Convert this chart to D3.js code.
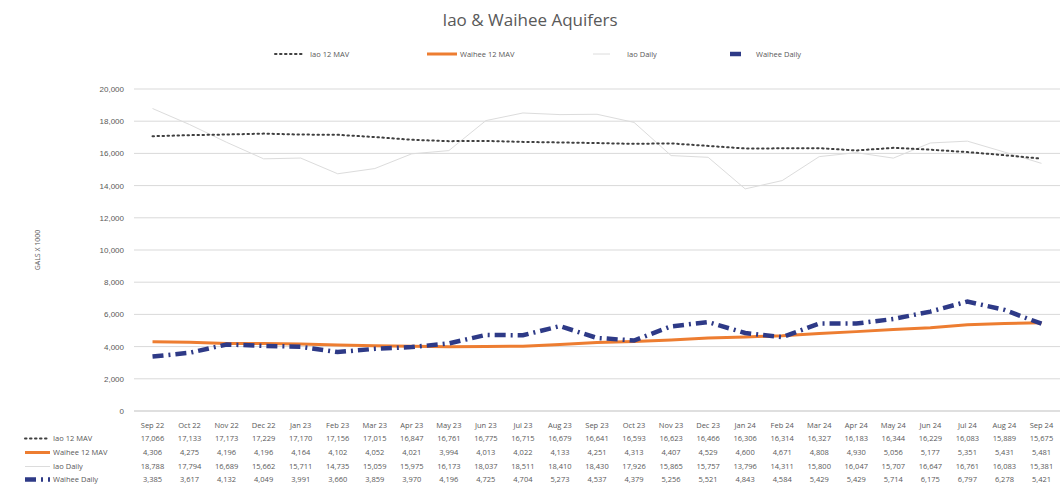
<!DOCTYPE html>
<html lang="en">
<head>
<meta charset="UTF-8">
<title>Iao & Waihee Aquifers</title>
<script src="https://d3js.org/d3.v7.min.js"></script>
<style>
  body { margin: 0; background: #fff; font-family: "Open Sans", "Noto Sans", sans-serif; }
  text { fill: #595959; }
</style>
</head>
<body>
<svg id="chart" width="1060" height="495"></svg>
<script>
// months along the bottom
const months = ["Sep 22","Oct 22","Nov 22","Dec 22","Jan 23","Feb 23","Mar 23","Apr 23","May 23","Jun 23","Jul 23","Aug 23","Sep 23",
                "Oct 23","Nov 23","Dec 23","Jan 24","Feb 24","Mar 24","Apr 24","May 24","Jun 24","Jul 24","Aug 24","Sep 24"];

// series values (gallons x 1000)
const iao12 = [17066,17133,17173,17229,17170,17156,17015,16847,16761,16775,16715,16679,16641,
               16593,16623,16466,16306,16314,16327,16183,16344,16229,16083,15889,15675];
const waihee12 = [4306,4275,4196,4196,4164,4102,4052,4021,3994,4013,4022,4133,4251,
                  4313,4407,4529,4600,4671,4808,4930,5056,5177,5351,5431,5481];
const iaoDaily = [18788,17794,16689,15662,15711,14735,15059,15975,16173,18037,18511,18410,18430,
                  17926,15865,15757,13796,14311,15800,16047,15707,16647,16761,16083,15381];
const waiheeDaily = [3385,3617,4132,4049,3991,3660,3859,3970,4196,4725,4704,5273,4537,
                     4379,5256,5521,4843,4584,5429,5429,5714,6175,6797,6278,5421];

const yTicks = [0,2000,4000,6000,8000,10000,12000,14000,16000,18000,20000];

const series = [
  { name: "Iao 12 MAV",    values: iao12,       color: "#404040", width: 2,   dash: "1.5,3.5", cap: "round" },
  { name: "Waihee 12 MAV", values: waihee12,    color: "#ed7d31", width: 3,   dash: null,      cap: "butt" },
  { name: "Iao Daily",     values: iaoDaily,    color: "#dcdcdc", width: 1,   dash: null,      cap: "butt" },
  { name: "Waihee Daily",  values: waiheeDaily, color: "#2e3a87", width: 4.5, dash: "11,5,2,5", cap: "butt" }
];

const svg = d3.select("#chart");
const plotLeft = 134, plotRight = 1060, plotTop = 89, plotBottom = 411;

const x = d3.scaleBand().domain(months).range([plotLeft, plotRight]);
const y = d3.scaleLinear().domain([0, 20000]).range([plotBottom, plotTop]);
const cx = m => x(m) + x.bandwidth() / 2;

// title
svg.append("text").attr("x", 530).attr("y", 26).attr("text-anchor", "middle")
  .style("font-size", "17px").text("Iao & Waihee Aquifers");

// gridlines
svg.append("g").selectAll("line").data(yTicks.filter(d => d > 0)).join("line")
  .attr("x1", plotLeft).attr("x2", plotRight).attr("y1", d => y(d)).attr("y2", d => y(d))
  .attr("stroke", "#d9d9d9").attr("stroke-width", 1);

// y axis
const yAxis = svg.append("g").attr("transform", `translate(${plotLeft},0)`)
  .call(d3.axisLeft(y).tickValues(yTicks).tickFormat(d3.format(",")).tickSize(0).tickPadding(10));
yAxis.select(".domain").remove();
yAxis.selectAll("text").style("font-size", "8px").attr("fill", "#595959");

svg.append("text").attr("transform", "translate(40,250) rotate(-90)").attr("text-anchor", "middle")
  .style("font-size", "7px").text("GALS X 1000");

// baseline
svg.append("line").attr("x1", plotLeft).attr("x2", plotRight).attr("y1", plotBottom).attr("y2", plotBottom)
  .attr("stroke", "#bfbfbf");

// lines
const line = d3.line().x((d, i) => cx(months[i])).y(d => y(d));
[series[2], series[0], series[1], series[3]].forEach(s => {
  svg.append("path").datum(s.values).attr("d", line).attr("fill", "none")
    .attr("stroke", s.color).attr("stroke-width", s.width)
    .attr("stroke-dasharray", s.dash).attr("stroke-linecap", s.cap);
});

// legend on top
const legendX = [275, 427, 593, 730];
const legendLen = [30, 30, 17, 14];
const legendGap = [5, 3, 17, 12];
series.forEach((s, i) => {
  const g = svg.append("g").attr("transform", `translate(${legendX[i]},54)`);
  g.append("line").attr("x1", 0).attr("x2", legendLen[i]).attr("y1", 0).attr("y2", 0)
    .attr("stroke", s.color).attr("stroke-width", s.width).attr("stroke-dasharray", s.dash)
    .attr("stroke-linecap", s.cap);
  g.append("text").attr("x", legendLen[i] + legendGap[i]).attr("y", 3).style("font-size", "7.5px").text(s.name);
});

// data table
svg.append("g").selectAll("text").data(months).join("text")
  .attr("x", d => cx(d)).attr("y", 428).attr("text-anchor", "middle")
  .style("font-size", "7.5px").text(d => d);

const rowY = [441, 455, 469, 482];
const fmt = d3.format(",");
series.forEach((s, r) => {
  const g = svg.append("g");
  g.append("line").attr("x1", 25).attr("x2", 50).attr("y1", rowY[r] - 2.5).attr("y2", rowY[r] - 2.5)
    .attr("stroke", s.color).attr("stroke-width", s.width).attr("stroke-dasharray", s.dash)
    .attr("stroke-linecap", s.cap);
  g.append("text").attr("x", 53).attr("y", rowY[r]).style("font-size", "7.5px").text(s.name);
  g.selectAll("text.v").data(s.values).join("text").attr("class", "v")
    .attr("x", (d, i) => cx(months[i])).attr("y", rowY[r]).attr("text-anchor", "middle")
    .style("font-size", "7.5px").text(d => fmt(d));
});
</script>
</body>
</html>
